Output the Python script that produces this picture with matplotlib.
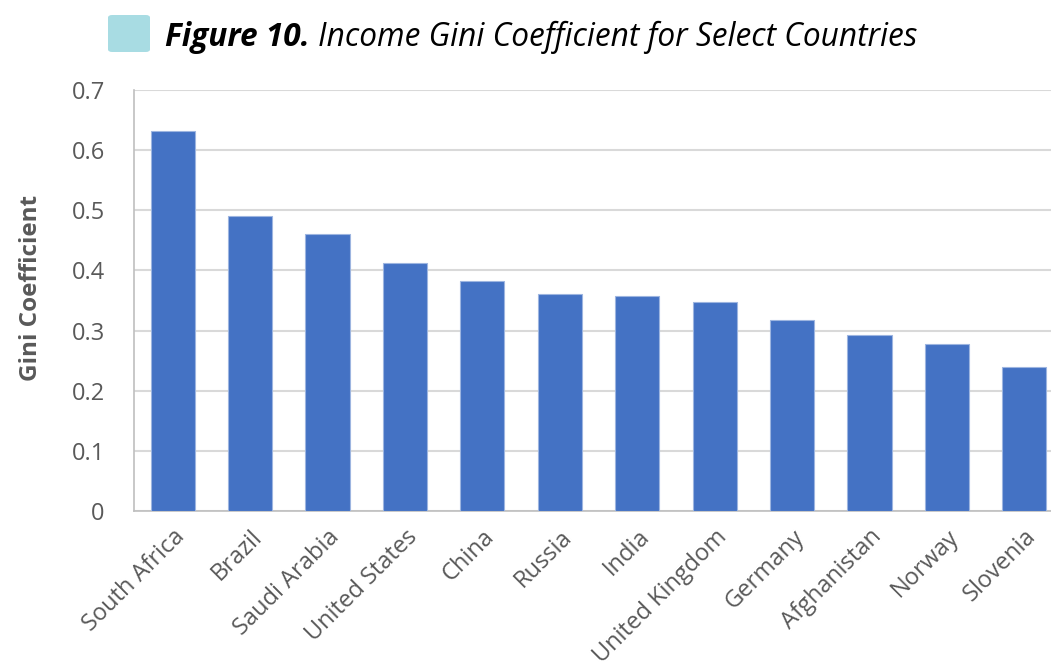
import matplotlib.pyplot as plt
from matplotlib.patches import FancyBboxPatch

countries = ['South Africa', 'Brazil', 'Saudi Arabia', 'United States', 'China', 'Russia',
             'India', 'United Kingdom', 'Germany', 'Afghanistan', 'Norway', 'Slovenia']
gini = [0.632, 0.49, 0.46, 0.412, 0.382, 0.36, 0.357, 0.347, 0.317, 0.293, 0.278, 0.24]
yticks = [0, 0.1, 0.2, 0.3, 0.4, 0.5, 0.6, 0.7]
ytick_labels = ['0', '0.1', '0.2', '0.3', '0.4', '0.5', '0.6', '0.7']

plt.rcParams['font.family'] = ['Open Sans', 'DejaVu Sans']

fig = plt.figure(figsize=(10.51, 6.71), dpi=100)
ax = fig.add_axes([0.1275, 0.2385, 0.884, 0.6275])

x = range(len(countries))
ax.bar(x, gini, width=0.57, color='#4472C4', edgecolor='#9DB5E0', linewidth=0.8, zorder=3)

ax.set_xlim(-0.5, len(countries) - 0.5)
ax.set_ylim(0, 0.7)
ax.set_yticks(yticks)
ax.set_yticklabels(ytick_labels)
ax.set_xticks(list(x))
ax.set_xticklabels(countries, rotation=45, ha='right', rotation_mode='anchor')

ax.grid(axis='y', color='#D9D9D9', linewidth=1.5, zorder=0)
for side in ['top', 'right']:
    ax.spines[side].set_visible(False)
for side in ['left', 'bottom']:
    ax.spines[side].set_color('#BFBFBF')
    ax.spines[side].set_linewidth(1.2)

ax.tick_params(axis='y', length=0, pad=21, labelsize=17, labelcolor='#595959')
ax.tick_params(axis='x', length=0, pad=10, labelsize=17, labelcolor='#595959')
ax.set_ylabel('Gini Coefficient', fontsize=17.5, fontweight='bold', color='#595959')
ax.yaxis.set_label_coords(-0.098, 0.53)

# title: light blue square + bold-italic prefix + italic text
fig.patches.append(FancyBboxPatch((108 / 1051, 1 - 52 / 671), 42 / 1051, 37 / 671,
                                  boxstyle='round,pad=0,rounding_size=0.004',
                                  transform=fig.transFigure, facecolor='#A8DCE3',
                                  edgecolor='none'))
t1 = fig.text(165 / 1051, 1 - 37 / 671, 'Figure 10.', fontsize=22.8, fontweight='bold',
              fontstyle='italic', va='center', ha='left', color='black')
fig.canvas.draw()
bb = t1.get_window_extent()
fig.text((bb.x1 + 8) / fig.bbox.width, 1 - 37 / 671, 'Income Gini Coefficient for Select Countries',
         fontsize=22.8, fontstyle='italic', va='center', ha='left', color='black')

fig.savefig('out.png', dpi=100)
